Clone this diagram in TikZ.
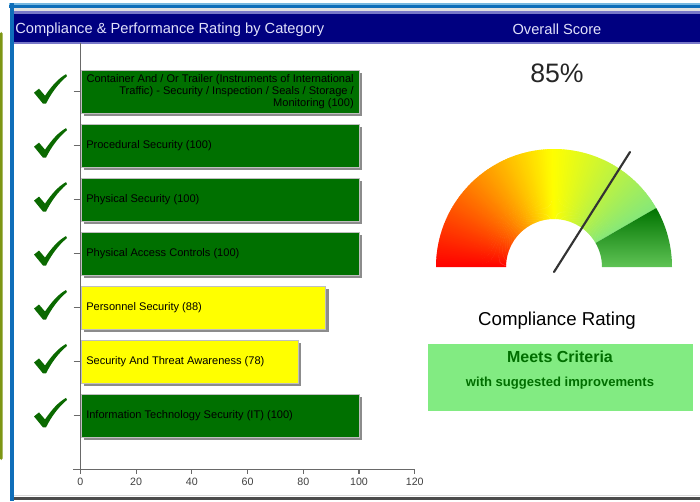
\documentclass[tikz,border=0pt]{standalone}
\usepackage{fontspec}
\setmainfont{Liberation Sans}
\definecolor{navyhead}{RGB}{0,0,128}
\definecolor{headedge}{RGB}{120,120,200}
\definecolor{headtext}{RGB}{225,225,250}
\definecolor{frameblue}{RGB}{15,110,185}
\definecolor{framelight}{RGB}{120,185,225}
\definecolor{sideolive}{RGB}{125,150,20}
\definecolor{bargreen}{RGB}{0,112,0}
\definecolor{baryellow}{RGB}{255,255,0}
\definecolor{checkgreen}{RGB}{10,105,0}
\definecolor{gaugered}{RGB}{255,0,0}
\definecolor{gaugeyellow}{RGB}{255,255,0}
\definecolor{gaugelight}{RGB}{135,232,120}
\definecolor{gaugedark}{RGB}{0,115,0}
\definecolor{gaugepale}{RGB}{95,195,85}
\definecolor{ratingbox}{RGB}{130,235,130}
\definecolor{ratingtext}{RGB}{0,110,0}
\definecolor{axisgrey}{RGB}{105,105,105}

\begin{document}
\begin{tikzpicture}[x=0.75pt,y=0.75pt]
		\tikzstyle{Bar} = [draw=black!25, line width=0.3pt]
		\tikzstyle{Shadow} = [fill=black!45]
		\tikzstyle{Axis} = [draw=axisgrey, line width=0.8pt]
		\tikzstyle{BarText} = [anchor=west, inner sep=0pt, font=\fontsize{8.3}{8.9}\selectfont]
		\tikzstyle{Tick} = [below, text=black!75, font=\fontsize{8}{9}\selectfont]
		\tikzstyle{HeadText} = [inner sep=0pt, text=headtext, font=\fontsize{11}{13}\selectfont]
		\tikzstyle{Check} = [fill=checkgreen]
		\tikzstyle{Needle} = [draw=black!80, line width=1.6pt, line cap=round]
		
		\useasboundingbox (0,0) rectangle (700,501);
		
		% frame and headers
		\fill[sideolive, rounded corners=1pt] (0,41) rectangle (2.5,469);
		\fill[black!12] (12,489) rectangle (700,493);
		\fill[framelight] (9,495.5) rectangle (700,498);
		\fill[frameblue] (9,493) rectangle (700,495.5);
		\fill[frameblue] (10,0) rectangle (13.5,498);
		\fill[black!15] (13.5,5) rectangle (700,6);
		\fill[black!70] (13.5,1) rectangle (700,4.5);
		\fill[headedge] (13.5,457) rectangle (700,489.5);
		\fill[navyhead] (13.5,459.3) rectangle (700,487);
		\node (catTitle) [HeadText, anchor=west] at (15,471.5) {Compliance \& Performance Rating by Category};
		\node (scoreTitle) [HeadText] at (557,471.5) {Overall Score};
		
		% bars
		\foreach \y/\r/\c in {409.3/359/bargreen, 355.35/359/bargreen, 301.4/359/bargreen, 247.45/359/bargreen, 193.5/325.6/baryellow, 139.55/297.7/baryellow, 85.6/359/bargreen}{
			\fill[Shadow] (84,\y-24.3) rectangle (\r+3,\y+18.3);
			\filldraw[Bar, fill=\c] (81,\y-21.3) rectangle (\r,\y+21.3);
			\draw[Axis] (73.5,\y) -- (80.3,\y);
			\fill[Check, shift={(50,\y)}] (-16,-1) -- (-11,3) -- (-5,-4) .. controls (2,6) and (8,13) .. (16,17.5) -- (17,15.5) .. controls (8,8) and (1,-2) .. (-4,-12) -- (-7,-12) -- cycle;
		}
		\node (cargoLbl) [BarText, anchor=east, align=right] at (354,409.3) {Container And / Or Trailer (Instruments of International\\ Traffic) - Security / Inspection / Seals / Storage /\\ Monitoring (100)};
		\node (procLbl) [BarText] at (86,355.35) {Procedural Security (100)};
		\node (physLbl) [BarText] at (86,301.4) {Physical Security (100)};
		\node (accessLbl) [BarText] at (86,247.45) {Physical Access Controls (100)};
		\node (staffLbl) [BarText] at (86,193.5) {Personnel Security (88)};
		\node (threatLbl) [BarText] at (86,139.55) {Security And Threat Awareness (78)};
		\node (itLbl) [BarText] at (86,85.6) {Information Technology Security (IT) (100)};
		
		% axes
		\draw[Axis] (80.3,458) -- (80.3,28);
		\draw[Axis] (73,31.7) -- (415,31.7);
		\foreach \v in {0,20,...,120}
			\draw[Axis] ({80.3+2.787*\v},31.7) -- ({80.3+2.787*\v},27.5) node (tick\v) [Tick] {\v};
		
		% overall score
		\node (pct) [text=black!85, font=\fontsize{20}{24}\selectfont] at (557,428) {85\%};
		\begin{scope}[shift={(554,234)}]
			\foreach \a in {90,...,179}{
				\pgfmathsetmacro\q{(180-\a)/90*100}
				\pgfmathsetmacro\b{min(\a+1.4,180)}
				\fill[gaugeyellow!\q!gaugered] (\a:48) -- (\a:118) arc[start angle=\a, end angle=\b, radius=118] -- (\b:48) -- cycle;
			}
			\foreach \a in {30,...,89}{
				\pgfmathsetmacro\q{(\a-30)/60*100}
				\fill[gaugeyellow!\q!gaugelight] (\a:48) -- (\a:118) arc[start angle=\a, end angle=\a+1.4, radius=118] -- (\a+1.4:48) -- cycle;
			}
			\shade[top color=gaugedark, bottom color=gaugepale] (0:48) -- (0:118) arc[start angle=0, end angle=30, radius=118] -- (30:48) arc[start angle=30, end angle=0, radius=48] -- cycle;
		\end{scope}
		\coordinate (hub) at (554,229);
		\coordinate (tip) at (630,349);
		\draw[Needle] (hub) -- (tip);
		
		\node (ratingTitle) [font=\fontsize{14}{16}\selectfont] at (557,180) {Compliance Rating};
		\node (verdictBox) [fill=ratingbox, minimum width=198.75pt, minimum height=50.25pt] at (560.5,123.5) {};
		\node (verdict) [text=ratingtext, font=\bfseries\fontsize{12}{14}\selectfont] at (560,144) {Meets Criteria};
		\node (advice) [text=ratingtext, font=\bfseries\fontsize{9.8}{11}\selectfont] at (560,118) {with suggested improvements};
\end{tikzpicture}
\end{document}
